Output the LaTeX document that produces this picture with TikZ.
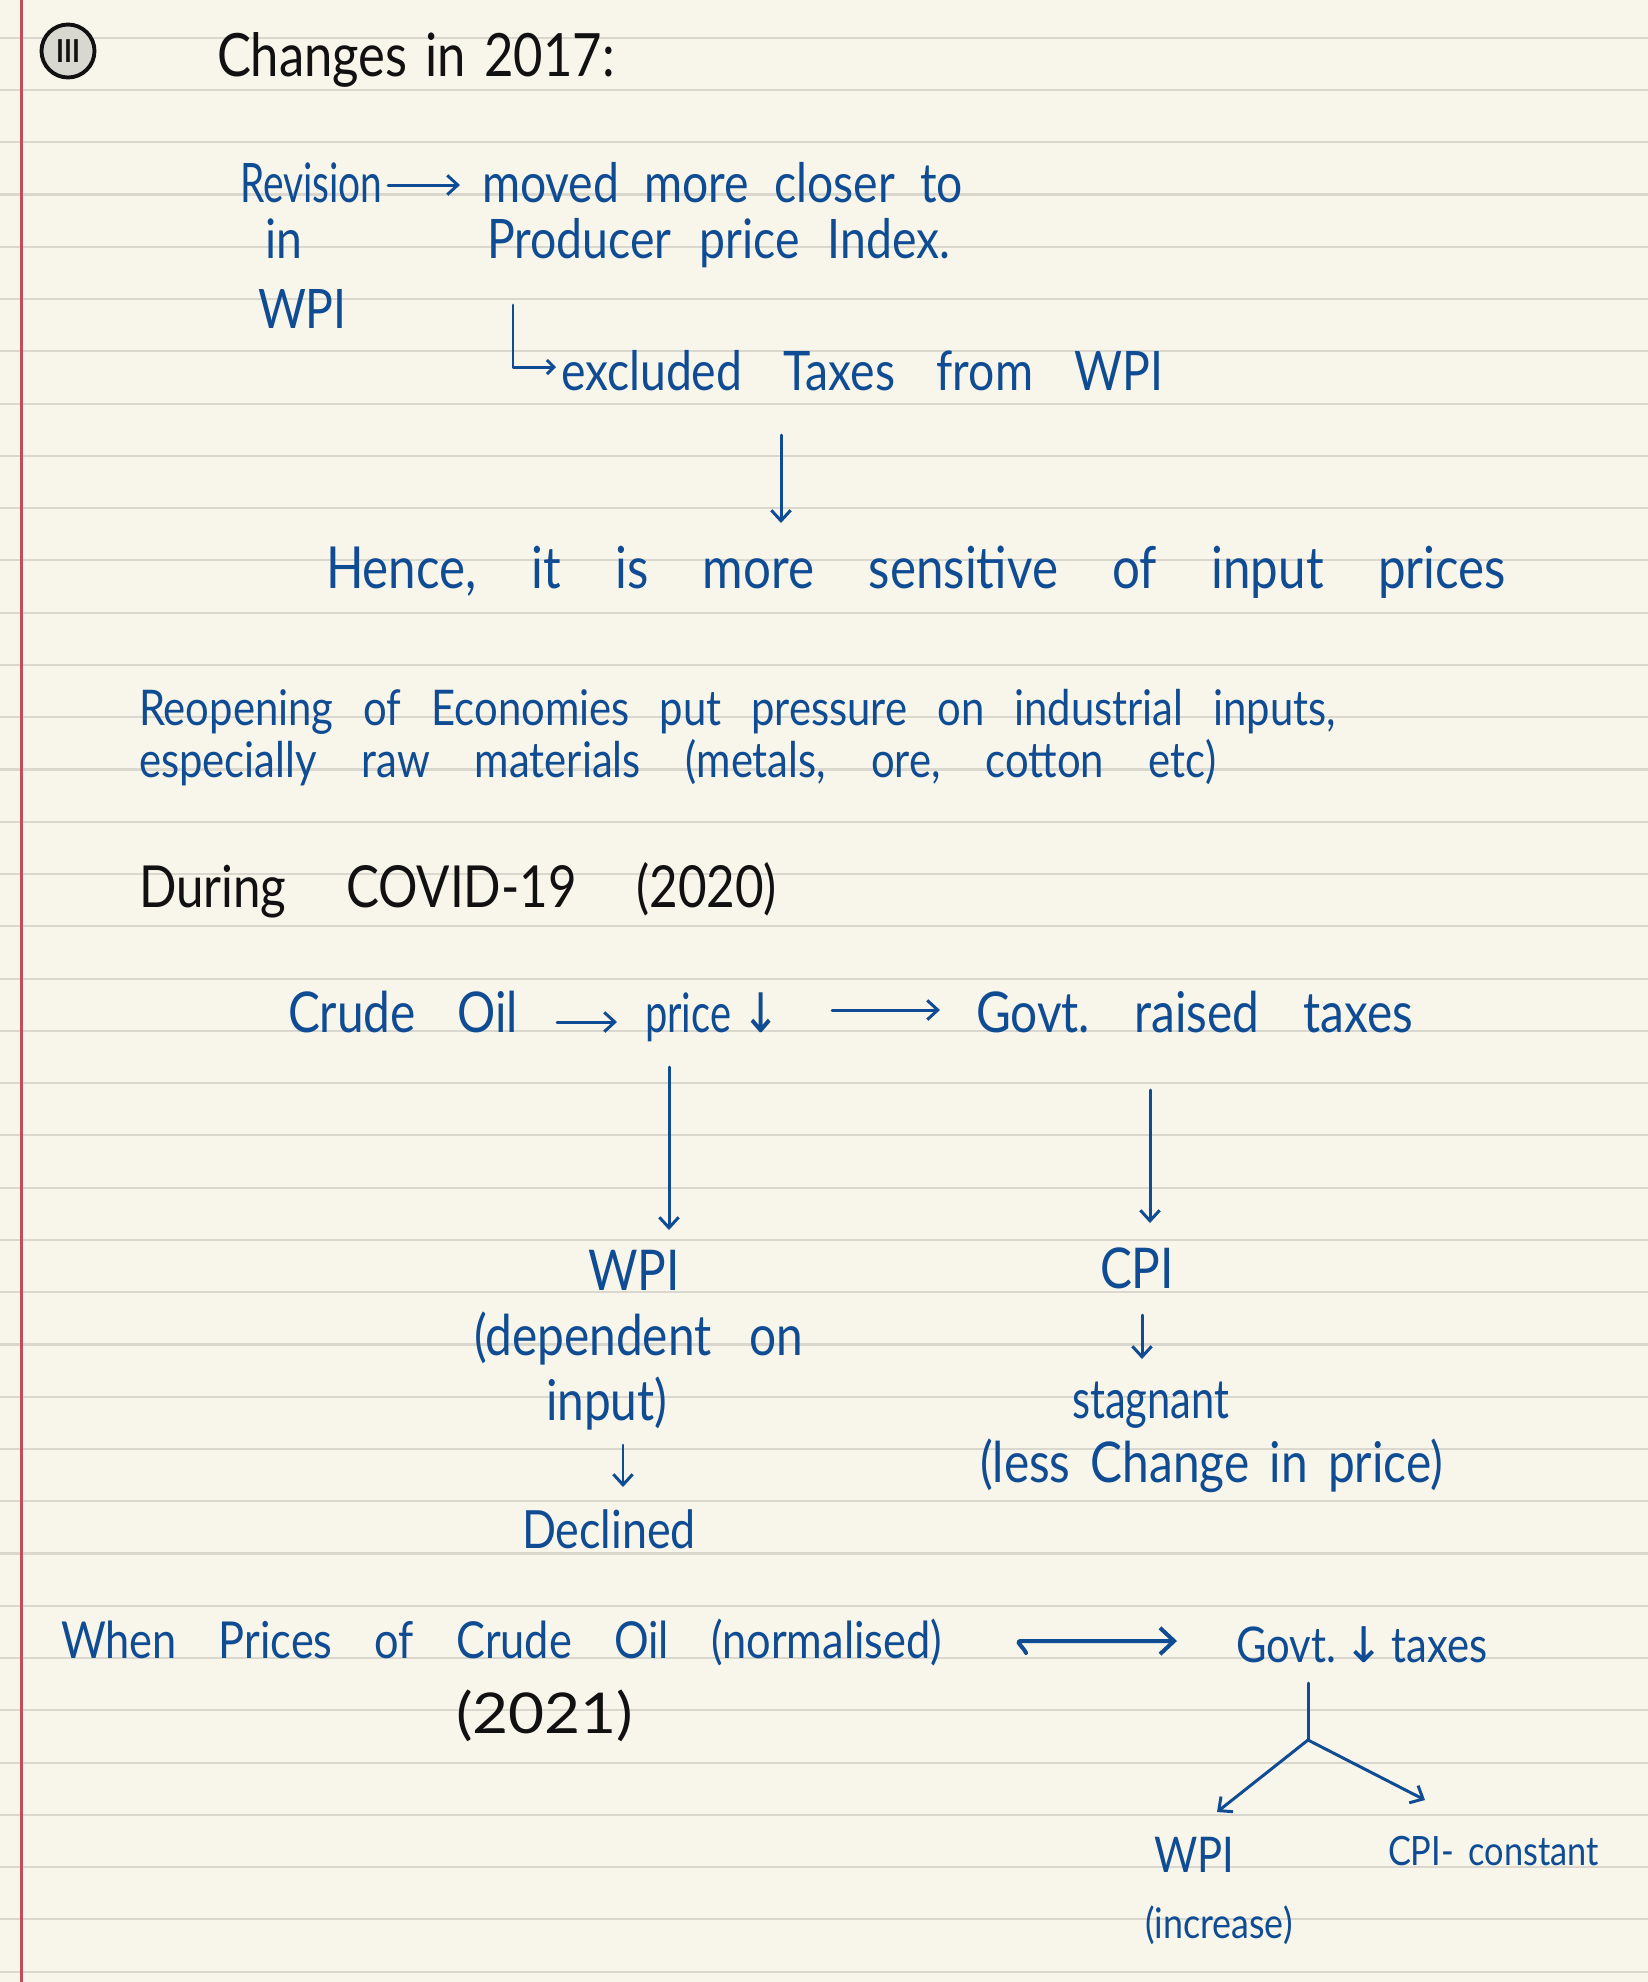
\documentclass[tikz,border=0pt]{standalone}
\usepackage{fontspec}
\setmainfont{Lato}[FakeStretch=0.85]
\newfontfamily\symf{DejaVu Sans}
\usetikzlibrary{arrows.meta,calc}
\definecolor{paper}{HTML}{F8F5EA}
\definecolor{rulecol}{HTML}{DAD7CF}
\definecolor{margincol}{HTML}{C04C5C}
\definecolor{ink}{HTML}{0F4C93}
\definecolor{pen}{HTML}{111111}
\definecolor{badge}{HTML}{D8D8D0}
\newdimen\pxu \pxu=0.02cm
\frenchspacing
\newcommand\hw[2]{\makebox[#1\pxu][s]{#2}}
\newcommand\nx[2]{\scalebox{#1}[1]{#2}}
\newcommand\fsz[1]{\fontsize{#1}{#1}\selectfont}
\tikzset{
  txt/.style={anchor=base west,inner sep=0pt,outer sep=0pt,text=ink,font=\fsz{31}},
  blk/.style={txt,text=pen},
  arr/.style={draw=ink,line width=1.7pt,line cap=round,line join=round,-{Straight Barb[length=6pt,width=11pt]}},
  rulestyle/.style={draw=rulecol,line width=1.2pt}
}
\begin{document}
\begin{tikzpicture}[x=0.02cm,y=-0.02cm]
\fill[paper] (0,0) rectangle (1648,1982);
\useasboundingbox (0,0) rectangle (1648,1982);
\foreach \k in {0,...,37} \draw[rulestyle] (0,{37.7+52.27*\k}) -- (1648,{37.7+52.27*\k});
\draw[margincol,line width=1.2pt] (21.5,0) -- (21.5,1982);

% title
\node[circle,draw=pen,fill=badge,line width=2.2pt,minimum size=1.06cm,inner sep=0pt,text=pen,font=\fsz{18}\bfseries] (num) at (68,51) {III};
\node[blk,font=\fsz{34}] (title) at (217,76) {\hw{398}{Changes in 2017:}};

% revision block
\node[txt] (rev) at (240,202) {\hw{148}{\nx{0.84}{Revision}}};
\node[txt] (moved) at (482,202) {\hw{481}{moved more closer to}};
\node[txt] (inw) at (265,258) {\hw{46}{in}};
\node[txt] (prod) at (487,258) {\hw{463}{Producer price Index.}};
\node[txt] (wpia) at (258,328) {\hw{99}{WPI}};
\node[txt] (excl) at (561,390) {\hw{602}{excluded Taxes from WPI}};
\node[txt,font=\fsz{33}] (hence) at (326,588) {\hw{1180}{Hence, it is more sensitive of input prices}};

\draw[arr] ($(rev.base east)+(0,-17)$) -- ($(moved.base west)+(-22,-17)$);
\draw[arr,-{Straight Barb[length=4pt,width=8pt]}] ($(prod.base west)+(26,47)$) |- ($(excl.base west)+(-5,-23)$);
\draw[arr] ($(excl.base west)+(220,45)$) -- ($(hence.base west)+(455,-65)$);

% reopening
\node[txt,font=\fsz{28}] (reop) at (139,725) {\hw{1197}{Reopening of Economies put pressure on industrial inputs,}};
\node[txt,font=\fsz{28}] (esp) at (139,777) {\hw{1077}{especially raw materials (metals, ore, cotton etc)}};

% covid
\node[blk,font=\fsz{33}] (during) at (139,907) {\hw{638}{During COVID-19 (2020)}};
\node[txt,font=\fsz{32}] (crude) at (288,1032) {\hw{230}{Crude Oil}};
\node[txt,font=\fsz{31}] (price) at (645,1032) {\hw{128}{\nx{0.86}{price {\symf ↓}}}};
\node[txt,font=\fsz{32}] (govt) at (976,1032) {\hw{437}{Govt. raised taxes}};
\draw[arr] ($(crude.base east)+(39,-10)$) -- ($(price.base west)+(-28,-10)$);
\draw[arr] ($(price.base east)+(59,-22)$) -- ($(govt.base west)+(-36,-22)$);

\node[txt,font=\fsz{32}] (wpib) at (588,1290) {\hw{115}{WPI}};
\node[txt,font=\fsz{32}] (dep) at (474,1355) {\hw{329}{(dependent on}};
\node[txt,font=\fsz{32}] (inp) at (546,1420) {\hw{155}{input)}};
\node[txt,font=\fsz{30}] (decl) at (522,1548) {\hw{176}{Declined}};
\node[txt,font=\fsz{32}] (cpib) at (1100,1288) {\hw{101}{CPI}};
\node[txt,font=\fsz{31}] (stag) at (1072,1418) {\hw{160}{\nx{0.9}{stagnant}}};
\node[txt,font=\fsz{32}] (less) at (980,1482) {\hw{463}{(less Change in price)}};

\draw[arr] ($(price.base west)+(24,35)$) -- ($(wpib.base west)+(81,-60)$);
\draw[arr] ($(govt.base west)+(174,58)$) -- ($(cpib.base west)+(50,-65)$);
\draw[arr] ($(inp.base west)+(77,25)$) -- ($(decl.base west)+(101,-61)$);
\draw[arr] ($(cpib.base west)+(42,27)$) -- ($(stag.base west)+(70,-59)$);

% 2021
\node[txt,font=\fsz{29}] (when) at (61,1658) {\hw{881}{When Prices of Crude Oil (normalised)}};
\node[blk,font=\fsz{32}] (yr) at (456,1733) {\hw{172}{\nx{1.3}{(2021)}}};
\node[txt,font=\fsz{28}] (gdown) at (1236,1662) {\hw{244}{Govt. {\symf ↓} taxes}};
\coordinate (ta) at ($(when.base east)+(78,-17)$);
\draw[arr,line width=2.3pt,-{Straight Barb[length=8pt,width=15pt]}] ($(ta)+(6,12)$) to[out=110,in=180] (ta) -- ($(gdown.base west)+(-59,-21)$);

\node[txt,font=\fsz{28}] (wpic) at (1154,1872) {\hw{84}{WPI}};
\node[txt,font=\fsz{24}] (incr) at (1145,1938) {\hw{158}{(increase)}};
\node[txt,font=\fsz{23}] (cpic) at (1388,1865) {\hw{211}{CPI- constant}};
\coordinate (fk) at ($(gdown.base west)+(72,78)$);
\draw[ink,line width=1.7pt,line cap=round] ($(gdown.base west)+(72,21)$) -- (fk);
\draw[arr] (fk) -- ($(wpic.base west)+(63,-60)$);
\draw[arr] (fk) -- ($(cpic.base west)+(37,-65)$);
\end{tikzpicture}
\end{document}
